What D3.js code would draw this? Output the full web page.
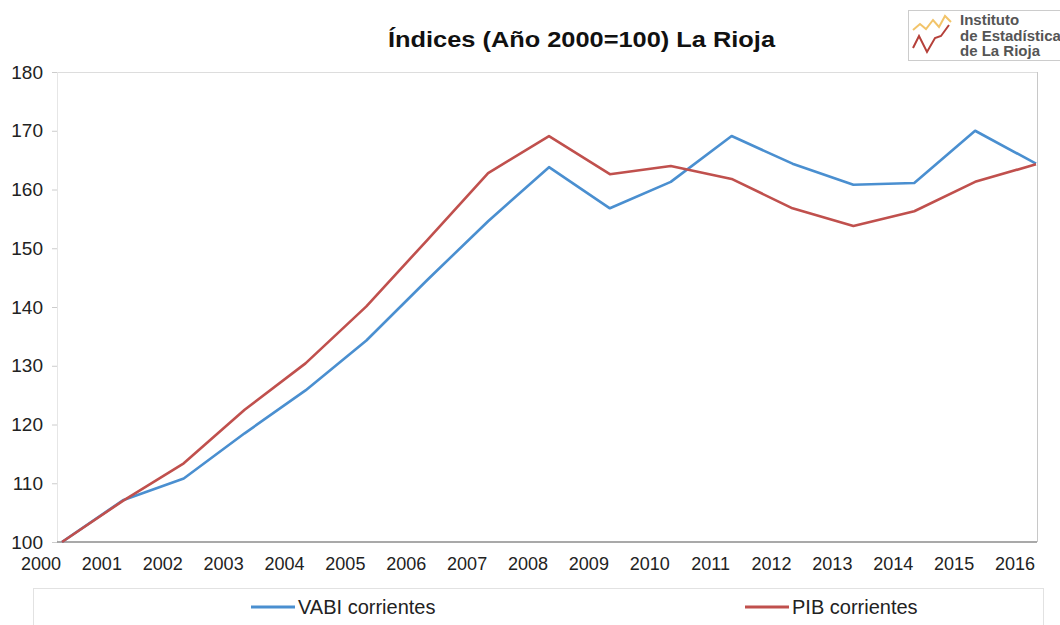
<!DOCTYPE html>
<html>
<head>
<meta charset="utf-8">
<script src="https://cdn.jsdelivr.net/npm/d3@7"></script>
<style>
body { margin:0; background:#fff; }
text { font-family: "Liberation Sans", Arial, sans-serif; }
</style>
</head>
<body>
<div id="chart"></div>
<script>
var years = [2000,2001,2002,2003,2004,2005,2006,2007,2008,2009,2010,2011,2012,2013,2014,2015,2016];
var vabi = [100,107.1,110.8,118.5,125.8,134.3,144.6,154.6,163.8,156.8,161.3,169.1,164.4,160.8,161.1,170,164.4];
var pib  = [100,107,113.4,122.5,130.4,140.1,151.4,162.8,169.1,162.6,164,161.8,156.8,153.8,156.3,161.3,164.3];
var yTicks = [100,110,120,130,140,150,160,170,180];
var seriesNames = ["VABI corrientes", "PIB corrientes"];
var colors = ["#4a8fd0", "#c0504d"];

var svgWidth = 1060;
var svgHeight = 625;

var svg = d3.select("#chart").append("svg")
  .attr("width", svgWidth)
  .attr("height", svgHeight);

var x = d3.scalePoint().domain(years).range([62, 1036]);
var y = d3.scaleLinear().domain([100, 180]).range([542, 72]);

// title
svg.append("text")
  .attr("x", 388).attr("y", 47)
  .attr("font-size", "22px")
  .attr("font-weight", "bold")
  .attr("fill", "#111")
  .attr("textLength", 387)
  .attr("lengthAdjust", "spacingAndGlyphs")
  .text("Índices (Año 2000=100) La Rioja");

// logo
var logo = svg.append("g");
logo.append("rect").attr("x", 908.5).attr("y", 10.5).attr("width", 160).attr("height", 50)
  .attr("fill", "#fff").attr("stroke", "#ccc");
logo.append("path").attr("d", "M913,30 L920,24 L926,29 L933,20 L939,27 L945,16 L951,22")
  .attr("fill", "none").attr("stroke", "#f2c46a").attr("stroke-width", 2);
logo.append("path").attr("d", "M913,48 L919,36 L927,52 L935,38 L941,36 L949,25")
  .attr("fill", "none").attr("stroke", "#b5403a").attr("stroke-width", 2);
var logoLines = ["Instituto", "de Estadística", "de La Rioja"];
logo.selectAll("text.logo").data(logoLines).enter().append("text")
  .attr("class", "logo")
  .attr("x", 960).attr("y", function(d, i) { return 25 + i * 15.5; })
  .attr("font-size", "15px").attr("font-weight", "bold").attr("fill", "#555")
  .text(function(d) { return d; });

// plot area border
svg.append("line").attr("x1", 57).attr("x2", 1037).attr("y1", 72.5).attr("y2", 72.5)
  .attr("stroke", "#ddd");
svg.append("line").attr("x1", 1037.5).attr("x2", 1037.5).attr("y1", 72).attr("y2", 542)
  .attr("stroke", "#c8c8c8");

// y axis
var leftAxis = d3.axisLeft(y).tickValues(yTicks).tickSize(5).tickPadding(9);
var gy = svg.append("g").attr("transform", "translate(57,0)").call(leftAxis);
gy.select(".domain").attr("stroke", "#e6e6e6");
gy.selectAll(".tick line").attr("stroke", "#ccc");
gy.selectAll("text").attr("font-size", "19px").attr("fill", "#222")
  .attr("font-family", "Liberation Sans, Arial, sans-serif");

// x axis
svg.append("line").attr("x1", 57).attr("x2", 1037).attr("y1", 542).attr("y2", 542)
  .attr("stroke", "#8c8c8c").attr("stroke-width", 1.5);
svg.selectAll("text.xlab").data(years).enter().append("text")
  .attr("class", "xlab")
  .attr("x", function(d) { return x(d) - 21; })
  .attr("y", 570)
  .attr("text-anchor", "middle")
  .attr("font-size", "18px").attr("fill", "#222")
  .text(function(d) { return d; });

// lines
var line = d3.line()
  .x(function(d, i) { return x(years[i]); })
  .y(function(d) { return y(d); });

[vabi, pib].forEach(function(s, i) {
  svg.append("path").datum(s)
    .attr("d", line)
    .attr("fill", "none")
    .attr("stroke", colors[i])
    .attr("stroke-width", 2.6)
    .attr("stroke-linejoin", "round");
});

// legend
svg.append("rect").attr("x", 33.5).attr("y", 588.5).attr("width", 1010).attr("height", 60)
  .attr("fill", "#fff").attr("stroke", "#e2e2e2");
var legX = [251, 745];
seriesNames.forEach(function(n, i) {
  svg.append("line").attr("x1", legX[i]).attr("x2", legX[i] + 44)
    .attr("y1", 607).attr("y2", 607)
    .attr("stroke", colors[i]).attr("stroke-width", 3);
  svg.append("text").attr("x", legX[i] + 47).attr("y", 614)
    .attr("font-size", "20px").attr("fill", "#222")
    .text(n);
});
</script>
</body>
</html>
